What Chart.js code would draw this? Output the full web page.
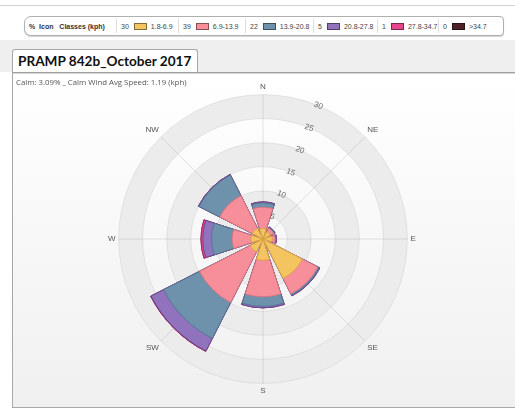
<!DOCTYPE html>
<html>
<head>
<meta charset="utf-8">
<script src="https://cdn.jsdelivr.net/npm/chart.js@4.4.0/dist/chart.umd.min.js"></script>
<style>
html, body { margin: 0; padding: 0; }
body { width: 515px; height: 408px; position: relative; overflow: hidden; background: #fff; font-family: Arial, "Liberation Sans", sans-serif; }
#topline { position: absolute; left: 0; top: 5px; width: 515px; height: 1px; background: #d0d0d0; }
#greyband { position: absolute; left: 0; top: 40px; width: 515px; height: 32px; background: #efefef; }
#legend { position: absolute; left: 24px; top: 16px; width: 478px; height: 18px; border: 1px solid #b0b0b0; border-radius: 7px 4px 4px 7px; background: #fff; box-shadow: 0 1px 1px rgba(0,0,0,.18); display: flex; align-items: center; font-size: 7px; color: #444; white-space: nowrap; }
#legend .head { width: 91px; padding-left: 4px; box-sizing: border-box; font-weight: bold; color: #333; }
#legend .cell { display: flex; align-items: center; height: 14px; border-left: 1px solid #ddd; box-sizing: border-box; padding-left: 4px; }
#legend .sw { display: inline-block; width: 11px; height: 5px; margin: 0 4px 0 5px; border: 1px solid rgba(0,0,0,.45); }
#panel { position: absolute; left: 12px; top: 72px; width: 520px; height: 334px; border-left: 1px solid #a8a8a8; border-top: 1px solid #a0a0a0; border-bottom: 1px solid #a8a8a8; box-shadow: inset 0 1px 0 #d6d6d6; background: linear-gradient(#ffffff, #f0f0f0); }
#tab { position: absolute; left: 12px; top: 49px; width: 186px; height: 23px; border: 1px solid #a8a8a8; border-bottom: none; border-radius: 3px 3px 0 0; background: #fff; font-family: Lato, "Open Sans", sans-serif; font-weight: bold; font-size: 13.6px; line-height: 23px; padding-left: 5px; box-sizing: border-box; color: #111; white-space: nowrap; overflow: hidden; }
#calm { position: absolute; left: 16px; top: 77px; font-family: "Open Sans", sans-serif; font-size: 7.8px; color: #555; z-index: 2; white-space: nowrap; }
#wrap { position: absolute; left: 12px; top: 72px; width: 503px; height: 336px; }
</style>
</head>
<body>
<div id="topline"></div>
<div id="greyband"></div>
<div id="legend"><div class="head">%&nbsp; Icon&nbsp;&nbsp; Classes (kph)</div></div>
<div id="panel"></div>
<div id="tab">PRAMP 842b_October 2017</div>
<div id="calm">Calm: 3.09% _ Calm Wind Avg Speed: 1.19 (kph)</div>
<div id="wrap"><canvas id="rose"></canvas></div>
<script>
// 風向と風速クラス
const directions = ['N', 'NE', 'E', 'SE', 'S', 'SW', 'W', 'NW'];
const speedClasses = ['1.8-6.9', '6.9-13.9', '13.9-20.8', '20.8-27.8', '27.8-34.7', '>34.7'];
const classPercents = [30, 39, 22, 5, 1, 0];

// 各方向の頻度 (%)
const class1 = [2.2, 1.7, 1.9, 9.2, 4.4, 3.0, 2.5, 2.5];
const class2 = [4.4, 0.8, 0.6, 3.6, 7.6, 11.8, 3.9, 7.6];
const class3 = [0.9, 0.2, 0.2, 0.3, 2.0, 8.4, 4.3, 4.8];
const class4 = [0.2, 0.1, 0.1, 0.15, 0.3, 2.9, 1.8, 0.15];
const class5 = [0, 0, 0, 0, 0, 0.1, 0.4, 0];
const class6 = [0, 0, 0, 0, 0, 0, 0, 0];

const radialTicks = [5, 10, 15, 20, 25, 30];

const classColors = ['#f3c460', '#f78f9a', '#6e91ac', '#9173bd', '#e4458d', '#4e2228'];
const classBorders = ['#d4a23c', '#e06f7e', '#4d7190', '#5f4690', '#b0206a', '#2e0c12'];

// 凡例
const legendEl = document.getElementById('legend');
const cellWidths = [62, 67, 68, 64, 61, 65];
speedClasses.forEach((c, i) => {
  const cell = document.createElement('div');
  cell.className = 'cell';
  cell.style.width = cellWidths[i] + 'px';
  cell.innerHTML = '<span>' + classPercents[i] + '</span><span class="sw" style="background:' + classColors[i] + '"></span><span>' + c + '</span>';
  legendEl.appendChild(cell);
});

// 16スロット: 半分の隙間, N, 隙間, NE, ...
const barAngle = 36;
const gapAngle = 9;
const slotLabels = [];
const slotAngles = [];
directions.forEach((d, i) => {
  slotLabels.push('', d);
  slotAngles.push(i === 0 ? gapAngle / 2 : gapAngle, barAngle);
});

const classValues = [class1, class2, class3, class4, class5, class6];
const datasets = classValues.map((vals, k) => {
  const data = [];
  directions.forEach((d, i) => {
    let sum = 0;
    for (let j = 0; j <= k; j++) sum += classValues[j][i];
    data.push(0, sum);
  });
  return {
    label: speedClasses[k],
    data: data,
    angle: slotAngles,
    backgroundColor: classColors[k],
    borderColor: classBorders[k],
    borderWidth: c => (c.dataIndex % 2 ? 0.8 : 0)
  };
});

// 背景の帯と目盛りラベル
const roseDecor = {
  id: 'roseDecor',
  beforeDraw(chart) {
    const r = chart.scales.r;
    const ctx = chart.ctx;
    ctx.save();
    ctx.fillStyle = '#ececec';
    for (let i = 0; i + 1 < radialTicks.length; i += 2) {
      ctx.beginPath();
      ctx.arc(r.xCenter, r.yCenter, r.getDistanceFromCenterForValue(radialTicks[i + 1]), 0, Math.PI * 2);
      ctx.arc(r.xCenter, r.yCenter, r.getDistanceFromCenterForValue(radialTicks[i]), 0, Math.PI * 2, true);
      ctx.fill();
    }
    ctx.restore();
  },
  afterDraw(chart) {
    const r = chart.scales.r;
    const ctx = chart.ctx;
    const a = 22.5 * Math.PI / 180;
    ctx.save();
    ctx.font = '8px Arial, "Liberation Sans"';
    ctx.fillStyle = '#666';
    ctx.textAlign = 'center';
    ctx.textBaseline = 'middle';
    radialTicks.forEach(v => {
      const d = r.getDistanceFromCenterForValue(v);
      ctx.save();
      ctx.translate(r.xCenter + d * Math.sin(a), r.yCenter - d * Math.cos(a));
      ctx.rotate(a);
      ctx.fillText(String(v), 0, 0);
      ctx.restore();
    });
    ctx.restore();
  }
};

Chart.defaults.font.family = 'Arial, "Liberation Sans", sans-serif';

new Chart(document.getElementById('rose'), {
  type: 'polarArea',
  data: { labels: slotLabels, datasets: datasets },
  plugins: [roseDecor],
  options: {
    responsive: true,
    maintainAspectRatio: false,
    animation: false,
    layout: { padding: 11 },
    plugins: { legend: { display: false }, tooltip: { enabled: false } },
    scales: {
      r: {
        min: 0,
        max: 30,
        startAngle: -22.5,
        z: 1,
        ticks: { display: false, stepSize: 5 },
        grid: { circular: true, color: 'rgba(0,0,0,0.07)' },
        angleLines: {
          display: true,
          color: 'rgba(0,0,0,0.1)',
          lineWidth: c => (c.index % 2 ? 1 : 0)
        },
        pointLabels: { display: true, centerPointLabels: false, padding: 3, color: '#555', font: { size: 8 } }
      }
    }
  }
});
</script>
</body>
</html>
